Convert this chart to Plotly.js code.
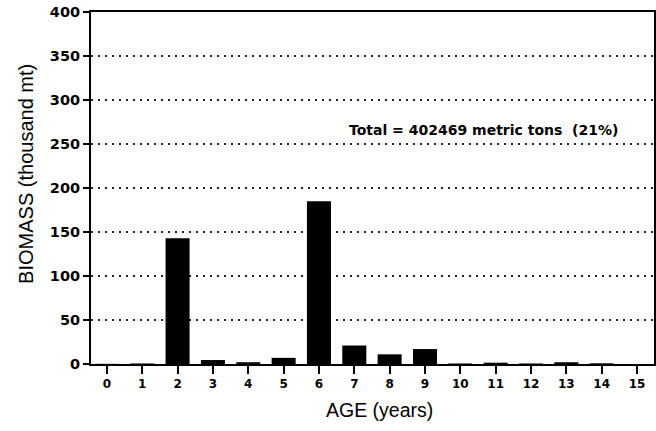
<!DOCTYPE html>
<html>
<head>
<meta charset="utf-8">
<script src="https://cdn.plot.ly/plotly-3.0.1.min.js"></script>
<style>html,body{margin:0;padding:0;background:#fff}#chart{width:656px;height:431px}</style>
</head>
<body>
<div id="chart"></div>
<script>
const ages = [0,1,2,3,4,5,6,7,8,9,10,11,12,13,14,15];
const biomass = [0.2,0.6,143,4.5,2,7,185,21,11,17,0.6,1.5,0.6,2,0.8,0];
const yTicks = [0,50,100,150,200,250,300,350,400];
const totalLabel = "Total = 402469 metric tons  (21%)";
const xTitle = "AGE (years)";
const yTitle = "BIOMASS (thousand mt)";

const trace = {
  type: 'bar',
  x: ages,
  y: biomass,
  width: 0.68,
  marker: {color: '#000', line: {width: 0}},
  hoverinfo: 'x+y'
};

const layout = {
  width: 656, height: 431,
  margin: {l: 91, r: 2, t: 12, b: 67},
  paper_bgcolor: '#fff', plot_bgcolor: '#fff',
  showlegend: false,
  font: {family: 'Liberation Sans, Arial, sans-serif', color: '#000'},
  xaxis: {
    range: [-0.45, 15.48],
    tickvals: ages,
    ticktext: ages.map(String),
    ticks: 'outside', ticklen: 8, tickwidth: 2, tickcolor: '#000',
    showline: true, linecolor: '#000', linewidth: 2, mirror: true,
    showgrid: false, zeroline: false,
    tickfont: {family: 'DejaVu Sans, sans-serif', size: 12, weight: 'bold'}
  },
  yaxis: {
    range: [0, 400],
    tickvals: yTicks,
    ticktext: yTicks.map(String),
    ticks: 'outside', ticklen: 6, tickwidth: 2, tickcolor: '#000',
    showline: true, linecolor: '#000', linewidth: 2, mirror: true,
    showgrid: true, gridcolor: '#222', gridwidth: 1.5, griddash: '1.5px,5.5px',
    zeroline: false,
    tickfont: {family: 'DejaVu Sans, sans-serif', size: 14.5, weight: 'bold'}
  },
  annotations: [
    {
      text: totalLabel,
      xref: 'paper', yref: 'y',
      x: 0.697, y: 266, xanchor: 'center', yanchor: 'middle',
      showarrow: false,
      font: {family: 'DejaVu Sans, sans-serif', size: 14, weight: 'bold', color: '#000'}
    },
    {
      text: xTitle,
      xref: 'paper', yref: 'paper',
      x: 0.512, y: -0.131, xanchor: 'center', yanchor: 'middle',
      showarrow: false,
      font: {size: 19.5, color: '#000'}
    },
    {
      text: yTitle,
      xref: 'paper', yref: 'paper',
      x: -0.1155, y: 0.54, xanchor: 'center', yanchor: 'middle',
      textangle: -90,
      showarrow: false,
      font: {size: 20, color: '#000'}
    }
  ]
};

Plotly.newPlot('chart', [trace], layout, {displayModeBar: false, staticPlot: true});
</script>
</body>
</html>
